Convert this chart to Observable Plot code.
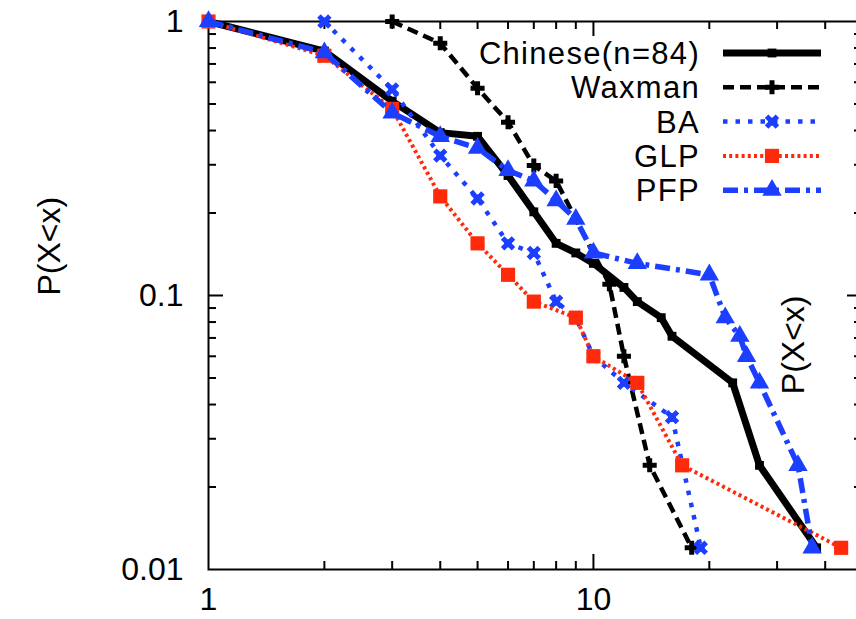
<!DOCTYPE html>
<html><head><meta charset="utf-8">
<script src="https://cdn.jsdelivr.net/npm/d3@7"></script>
<script src="https://cdn.jsdelivr.net/npm/@observablehq/plot@0.6"></script>
<style>html,body{margin:0;padding:0;background:#fff;} svg{display:block;overflow:visible}</style>
</head><body><div id="chart"></div>
<script>
// ---- data ----
const chineseX = [1,2,3,4,5,6,7,8,9,10,12,13,15,16,23,27,38];
const chineseY = [1,0.78,0.512,0.393,0.381,0.274,0.202,0.155,0.143,0.131,0.107,0.095,0.083,0.071,0.048,0.024,0.012];
const waxmanX = [3,4,5,6,7,8,11,12,14,18];
const waxmanY = [1,0.833,0.571,0.429,0.298,0.262,0.11,0.06,0.024,0.012];
const baX = [2,3,4,5,6,7,8,9,10,12,16,19];
const baY = [1,0.565,0.324,0.226,0.155,0.143,0.095,0.083,0.06,0.048,0.036,0.012];
const glpX = [1,2,3,4,5,6,7,9,10,13,17,44];
const glpY = [1,0.75,0.48,0.23,0.155,0.119,0.095,0.083,0.06,0.048,0.024,0.012];
const pfpX = [1,2,3,4,5,6,7,8,9,10,13,20,22,24,25,27,34,37];
const pfpY = [1,0.77,0.464,0.381,0.345,0.286,0.262,0.222,0.19,0.143,0.131,0.119,0.083,0.071,0.06,0.048,0.024,0.012];

const seriesNames = ["Chinese(n=84)", "Waxman", "BA", "GLP", "PFP"];
const xTickLabels = [1, 10];
const yTickLabels = [0.01, 0.1, 1];
const xMinorTicks = [2,3,4,5,6,7,8,9,20,30,40];
const xMajorTicks = [10];
const yMinorTicks = [0.02,0.03,0.04,0.05,0.06,0.07,0.08,0.09,0.2,0.3,0.4,0.5,0.6,0.7,0.8,0.9];
const yMajorTicks = [0.1];
const yLabel = "P(X<x)";

// ---- styles ----
const BLUE = "#1c3fff", RED = "#ff2a0a", BLACK = "#000";
const FONT = "'Liberation Sans', Arial, Helvetica, sans-serif";
const W = 856, H = 619;
const mL = 208, mR = -6, mT = 21, mB = 50;
const innerW = W - mL - mR, innerH = H - mT - mB;

const rows = (xs, ys) => xs.map((x, i) => ({x, y: ys[i]}));
const chinese = rows(chineseX, chineseY), waxman = rows(waxmanX, waxmanY),
      ba = rows(baX, baY), glp = rows(glpX, glpY), pfp = rows(pfpX, pfpY);

const styles = [
  {data: chinese, stroke: BLACK, width: 7, dash: null,
   dots: [{symbol: "square", r: 5, fill: BLACK}]},
  {data: waxman, stroke: BLACK, width: 4.5, dash: "11,6",
   dots: [{symbol: "plus", r: 4.6, stroke: BLACK, strokeWidth: 5}]},
  {data: ba, stroke: BLUE, width: 4.5, dash: "4.5,8",
   dots: [{symbol: "times", r: 5, stroke: BLUE, strokeWidth: 5}, {symbol: "square", r: 4.4, fill: BLUE}]},
  {data: glp, stroke: RED, width: 4, dash: "3,3.2",
   dots: [{symbol: "square", r: 8, fill: RED}]},
  {data: pfp, stroke: BLUE, width: 5.5, dash: "15,6,4,6",
   dots: [{symbol: "triangle", r: 7.2, fill: BLUE}]}
];

const marks = [];
// ticks (inward, mirrored)
marks.push(Plot.tickX(xMinorTicks, {x: d => d, insetTop: innerH - 8, stroke: BLACK, strokeWidth: 2}));
marks.push(Plot.tickX(xMinorTicks, {x: d => d, insetBottom: innerH - 8, stroke: BLACK, strokeWidth: 2}));
marks.push(Plot.tickX(xMajorTicks, {x: d => d, insetTop: innerH - 15, stroke: BLACK, strokeWidth: 2}));
marks.push(Plot.tickX(xMajorTicks, {x: d => d, insetBottom: innerH - 15, stroke: BLACK, strokeWidth: 2}));
marks.push(Plot.tickY(yMinorTicks, {y: d => d, insetRight: innerW - 8, stroke: BLACK, strokeWidth: 2}));
marks.push(Plot.tickY(yMinorTicks, {y: d => d, insetLeft: innerW - 8, stroke: BLACK, strokeWidth: 2}));
marks.push(Plot.tickY(yMajorTicks, {y: d => d, insetRight: innerW - 15, stroke: BLACK, strokeWidth: 2}));
marks.push(Plot.tickY(yMajorTicks, {y: d => d, insetLeft: innerW - 15, stroke: BLACK, strokeWidth: 2}));
marks.push(Plot.frame({stroke: BLACK, strokeWidth: 2}));
// axis labels
marks.push(Plot.axisX(xTickLabels, {anchor: "bottom", tickSize: 0, tickPadding: 18, fontSize: 32, tickFormat: d => String(d), label: null, line: false}));
marks.push(Plot.axisY(yTickLabels, {anchor: "left", tickSize: 0, tickPadding: 25, fontSize: 32, tickFormat: d => String(d), label: null, line: false}));
marks.push(Plot.text([yLabel], {frameAnchor: "left", dx: -159, rotate: -90, fontSize: 32, fill: BLACK}));
marks.push(Plot.text([yLabel], {frameAnchor: "right", dx: -69, rotate: -90, fontSize: 32, fill: BLACK}));
// series
for (const s of styles) {
  marks.push(Plot.line(s.data, {x: "x", y: "y", stroke: s.stroke, strokeWidth: s.width,
    strokeDasharray: s.dash, strokeLinejoin: "miter", strokeLinecap: "butt"}));
  for (const d of s.dots) {
    marks.push(Plot.dot(s.data, {x: "x", y: "y", symbol: d.symbol, r: d.r,
      fill: d.fill || "none", stroke: d.stroke || "none", strokeWidth: d.strokeWidth || 1}));
  }
}

const chart = Plot.plot({
  width: W, height: H,
  marginLeft: mL, marginRight: mR, marginTop: mT, marginBottom: mB,
  x: {type: "log", domain: [1, 50]},
  y: {type: "log", domain: [0.01, 1]},
  style: {fontFamily: FONT, background: "#fff", color: "#000", overflow: "visible"},
  marks
});

// legend (top right, inside the frame)
const svg = d3.select(chart);
const leg = svg.append("g").attr("font-family", FONT).attr("font-size", 31);
const symMap = {square: d3.symbolSquare, plus: d3.symbolPlus, times: d3.symbolTimes, triangle: d3.symbolTriangle};
styles.forEach((s, i) => {
  const yy = 53 + i * 34.3;
  leg.append("text").attr("x", 700).attr("y", yy).attr("dy", "0.36em")
    .attr("text-anchor", "end").attr("letter-spacing", "1.3px").attr("fill", BLACK).text(seriesNames[i]);
  leg.append("line").attr("x1", 723).attr("x2", 821).attr("y1", yy).attr("y2", yy)
    .attr("stroke", s.stroke).attr("stroke-width", s.width)
    .attr("stroke-dasharray", s.dash).attr("stroke-linecap", "butt");
  for (const d of s.dots) {
    leg.append("path").attr("transform", `translate(772,${yy})`)
      .attr("d", d3.symbol(symMap[d.symbol], Math.PI * d.r * d.r)())
      .attr("fill", d.fill || "none").attr("stroke", d.stroke || "none")
      .attr("stroke-width", d.strokeWidth || 1);
  }
});

document.getElementById("chart").appendChild(chart);
</script></body></html>
